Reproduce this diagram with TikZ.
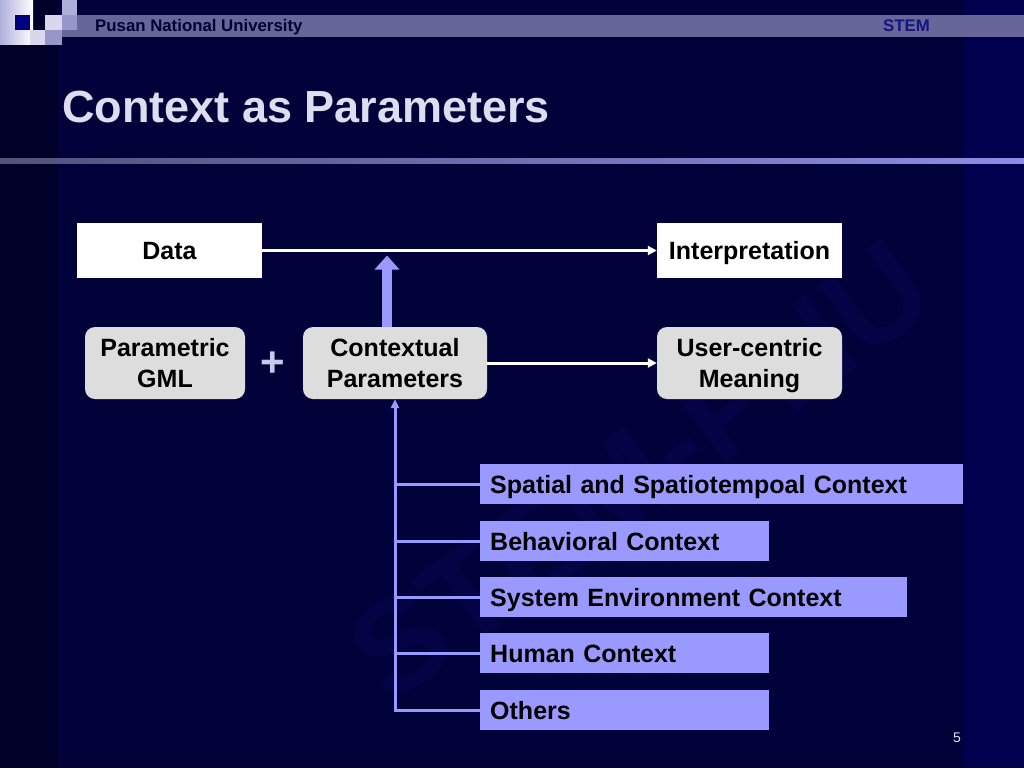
\documentclass[tikz,border=0pt]{standalone}
\usepackage{fontspec}
\setmainfont{Liberation Sans}
\usetikzlibrary{arrows.meta,calc}

\definecolor{slidebg}{RGB}{2,2,58}
\definecolor{leftbg}{RGB}{0,0,40}
\definecolor{rightbg}{RGB}{0,0,78}
\definecolor{wmark}{RGB}{3,3,70}
\definecolor{barcol}{RGB}{102,102,153}
\definecolor{navytext}{RGB}{0,0,51}
\definecolor{stemtext}{RGB}{20,20,130}
\definecolor{titletext}{RGB}{221,221,240}
\definecolor{greyfill}{RGB}{221,221,221}
\definecolor{ctxblue}{RGB}{153,153,255}
\definecolor{pluscol}{RGB}{200,200,235}
\definecolor{logoblue}{RGB}{0,0,128}
\definecolor{logolight}{RGB}{215,215,238}
\definecolor{logomid}{RGB}{175,175,220}
\definecolor{logodark}{RGB}{150,150,205}

\newcommand{\boxfnt}{\fontsize{25}{31}\selectfont\bfseries}

\begin{document}
\begin{tikzpicture}[x=1pt, y=-1pt, >={Triangle[length=9pt, width=9pt]},
	every node/.style={inner sep=0pt},
	whitebox/.style={fill=white, minimum width=185pt, minimum height=55pt, text depth=0pt, font=\boxfnt},
	greybox/.style={fill=greyfill, rounded corners=10pt, minimum height=72pt, align=center, text depth=0pt, font=\boxfnt},
	ctxbox/.style={fill=ctxblue, anchor=west, minimum height=40pt, inner xsep=10pt, align=left, text height=18pt, text depth=0pt, font=\boxfnt},
	flowline/.style={draw=white, line width=3pt},
	ctxline/.style={draw=ctxblue, line width=3pt, >={Triangle[length=9pt, width=8pt]}},
	bigarrow/.style={draw=ctxblue, line width=10pt, -{Triangle[length=14pt, width=24pt]}}]
	% slide background
	\useasboundingbox (0,0) rectangle (1024,768);
	\fill[slidebg] (0,0) rectangle (1024,768);
	\fill[leftbg] (0,0) rectangle (58,768);
	\fill[rightbg] (964,0) rectangle (1024,768);
	\node[rotate=36, text=wmark, font=\fontsize{130}{130}\selectfont\bfseries] (wm) at (640,470) {STEM-PNU};
	% header
	\fill[barcol] (62,15) rectangle (1024,37);
	\shade[left color=logomid, right color=white] (0,0) rectangle (33,45);
	\fill[logoblue] (15,15) rectangle (30,30);
	\fill[logolight] (30,30) rectangle (45,45);
	\fill[logolight] (45,15) rectangle (62,30);
	\fill[logodark] (45,30) rectangle (62,45);
	\fill[logomid] (62,0) rectangle (77,15);
	\fill[logodark] (62,15) rectangle (77,30);
	\node[anchor=base west, text=navytext, font=\fontsize{16.8}{18}\selectfont\bfseries] (uni) at (95,32) {Pusan National University};
	\node[anchor=base west, text=stemtext, font=\fontsize{16.8}{18}\selectfont\bfseries] (stem) at (883,32) {STEM};
	\node[anchor=base west, text=titletext, font=\fontsize{45}{50}\selectfont\bfseries] (title) at (62,122) {Context as Parameters};
	\shade[left color=barcol!80!black, right color=ctxblue!75!barcol] (0,158) rectangle (1024,163);
	% diagram
	\node[whitebox] (data) at (169.5,250.5) {Data};
	\node[whitebox] (interp) at (749.5,250.5) {Interpretation};
	\node[greybox, minimum width=160pt] (pgml) at (165,363) {Parametric\\GML};
	\node[greybox, minimum width=184pt] (cparam) at (395,363) {Contextual\\Parameters};
	\node[greybox, minimum width=185pt] (ucm) at (749.5,363) {User-centric\\Meaning};
	\node[text=pluscol, font=\fontsize{42}{42}\selectfont\bfseries] (plus) at (273,364) {+};
	\node[ctxbox, text width=463pt] (spatial) at (480,484) {Spatial and Spatiotempoal Context};
	\node[ctxbox, text width=269pt] (behav) at (480,541) {Behavioral Context};
	\node[ctxbox, text width=407pt] (sysenv) at (480,597) {System Environment Context};
	\node[ctxbox, text width=269pt] (human) at (480,653) {Human Context};
	\node[ctxbox, text width=269pt] (others) at (480,710) {Others};
	\draw[flowline, ->] (data) -- (interp);
	\draw[flowline, ->] (cparam) -- (ucm);
	\draw[bigarrow] ($(cparam.north)+(-8,0)$) -- ($(cparam.north |- data.east)+(-8,5)$);
	\draw[ctxline, ->] (others.west) -| (cparam.south);
	\foreach \c in {spatial,behav,sysenv,human} {\draw[ctxline] (\c.west) -- (\c.west -| cparam.south);}
	\node[text=titletext, font=\fontsize{14}{16}\selectfont] (page) at (957,738) {5};
\end{tikzpicture}
\end{document}
